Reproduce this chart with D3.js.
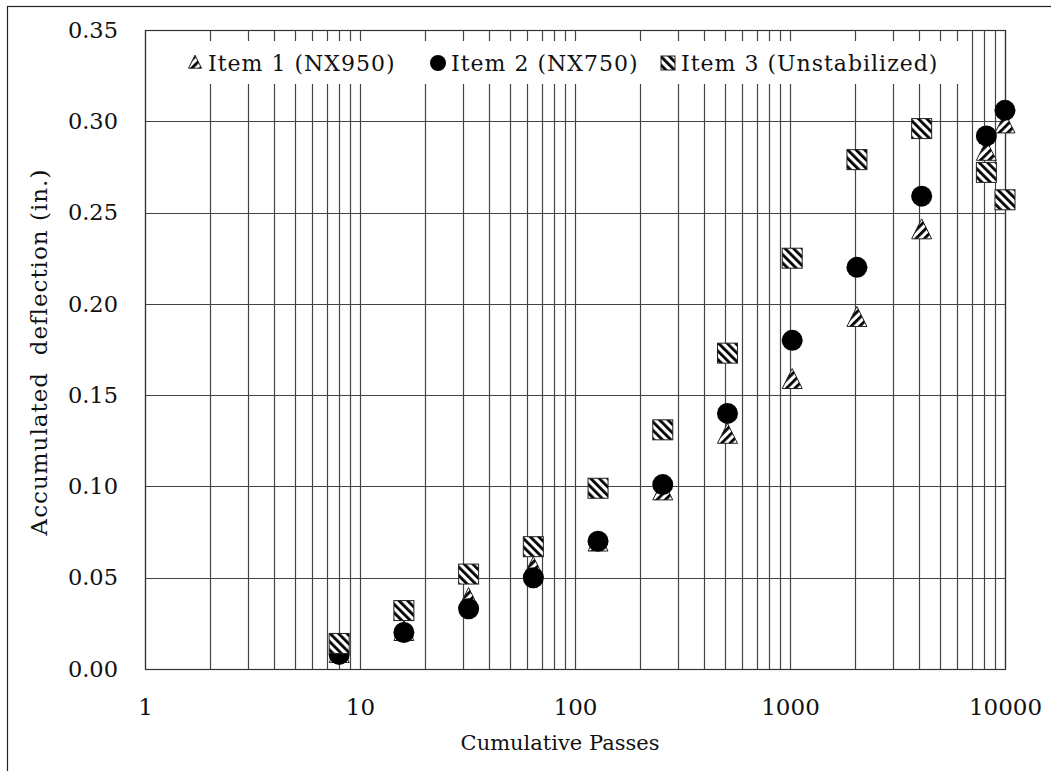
<!DOCTYPE html>
<html lang='en'>
<head>
  <meta charset='utf-8'/>
  <title>Accumulated deflection vs cumulative passes</title>
  <script src='https://d3js.org/d3.v7.min.js'></script>
  <style>
    body{margin:0;background:#ffffff;}
    svg text{font-family:'DejaVu Serif',serif;fill:#111;}
  </style>
</head>
<body>
<svg id='chart'></svg>
<script>
// Data
const passes = [8, 16, 32, 64, 128, 256, 512, 1024, 2048, 4096, 8192, 10000];
const item1 = [0.008, 0.020, 0.038, 0.055, 0.069, 0.097, 0.128, 0.158, 0.192, 0.240, 0.283, 0.298];
const item2 = [0.008, 0.020, 0.033, 0.050, 0.070, 0.101, 0.140, 0.180, 0.220, 0.259, 0.292, 0.306];
const item3 = [0.014, 0.032, 0.052, 0.067, 0.099, 0.131, 0.173, 0.225, 0.279, 0.296, 0.272, 0.257];
const seriesNames = ['Item 1 (NX950)', 'Item 2 (NX750)', 'Item 3 (Unstabilized)'];
const xTicks = [1, 10, 100, 1000, 10000];
const yTicks = [0, 0.05, 0.10, 0.15, 0.20, 0.25, 0.30, 0.35];

// Settings
const W = 1051, H = 771;
const plot = {left: 145, right: 1005, top: 30, bottom: 669};

const svg = d3.select('#chart').attr('width', W).attr('height', H);

const x = d3.scaleLog().domain([1, 10000]).range([plot.left, plot.right]);
const y = d3.scaleLinear().domain([0, 0.35]).range([plot.bottom, plot.top]);

// hatch patterns
const defs = svg.append('defs');
function hatch(id, angle) {
  const p = defs.append('pattern')
    .attr('id', id)
    .attr('patternUnits', 'userSpaceOnUse')
    .attr('width', 6).attr('height', 6)
    .attr('patternTransform', `rotate(${angle})`);
  p.append('rect').attr('width', 6).attr('height', 6).attr('fill', '#fff');
  p.append('rect').attr('width', 2.8).attr('height', 6).attr('fill', '#000');
}
hatch('hatchSq', -45);
hatch('hatchTri', 45);

// outer border
svg.append('rect')
  .attr('x', 7.5).attr('y', 6.5)
  .attr('width', W + 20).attr('height', H + 20)
  .attr('fill', 'none').attr('stroke', '#222').attr('stroke-width', 1.2);

// grid
const minor = [];
[1, 10, 100, 1000].forEach(d => { for (let k = 1; k < 10; k++) minor.push(d * k); });
minor.push(10000);

const grid = svg.append('g').attr('stroke', '#444').attr('stroke-width', 1.2);
grid.selectAll('.vg').data(minor).join('line')
  .attr('class', 'vg')
  .attr('x1', d => Math.round(x(d)) + 0.5).attr('x2', d => Math.round(x(d)) + 0.5)
  .attr('y1', plot.top).attr('y2', plot.bottom);
grid.selectAll('.hg').data(yTicks).join('line')
  .attr('class', 'hg')
  .attr('x1', plot.left).attr('x2', plot.right)
  .attr('y1', d => Math.round(y(d)) + 0.5).attr('y2', d => Math.round(y(d)) + 0.5);

// plot frame
svg.append('rect')
  .attr('x', plot.left + 0.5).attr('y', plot.top + 0.5)
  .attr('width', plot.right - plot.left).attr('height', plot.bottom - plot.top)
  .attr('fill', 'none').attr('stroke', '#333').attr('stroke-width', 1.2);

// axes labels
const xAxis = svg.append('g')
  .attr('transform', `translate(0,${plot.bottom})`)
  .call(d3.axisBottom(x).tickValues(xTicks).tickSize(0).tickPadding(30).tickFormat(d3.format('d')));
xAxis.select('.domain').remove();
xAxis.selectAll('text').style('font-size', '23px');

const yAxis = svg.append('g')
  .attr('transform', `translate(${plot.left},0)`)
  .call(d3.axisLeft(y).tickValues(yTicks).tickSize(0).tickPadding(27).tickFormat(d3.format('.2f')));
yAxis.select('.domain').remove();
yAxis.selectAll('text').style('font-size', '22.5px');

svg.append('text')
  .attr('x', (plot.left + plot.right) / 2 - 15).attr('y', 750)
  .attr('text-anchor', 'middle')
  .style('font-size', '21px')
  .text('Cumulative Passes');

svg.append('text')
  .attr('transform', `translate(47,352) rotate(-90)`)
  .attr('text-anchor', 'middle')
  .style('font-size', '23px')
  .style('letter-spacing', '1px')
  .style('white-space', 'pre')
  .text('Accumulated  deflection (in.)');

// markers
function triPath(s) {
  return `M0,${-s * 0.6}L${s / 2},${s * 0.4}L${-s / 2},${s * 0.4}Z`;
}
const pts = (vals) => passes.map((p, i) => ({p, v: vals[i]}));

svg.append('g').selectAll('path').data(pts(item1)).join('path')
  .attr('transform', d => `translate(${x(d.p)},${y(d.v)})`)
  .attr('d', triPath(20))
  .attr('fill', 'url(#hatchTri)').attr('stroke', '#222').attr('stroke-width', 1);

svg.append('g').selectAll('circle').data(pts(item2)).join('circle')
  .attr('cx', d => x(d.p)).attr('cy', d => y(d.v)).attr('r', 10.5)
  .attr('fill', '#000');

svg.append('g').selectAll('rect').data(pts(item3)).join('rect')
  .attr('x', d => x(d.p) - 10).attr('y', d => y(d.v) - 10)
  .attr('width', 20).attr('height', 20)
  .attr('fill', 'url(#hatchSq)').attr('stroke', '#222').attr('stroke-width', 1);

// legend
const legend = svg.append('g');
legend.append('rect')
  .attr('x', 180).attr('y', 41).attr('width', 780).attr('height', 43)
  .attr('fill', '#fff');

const legX = [195, 438, 668];
const legY = 63;
legend.append('path')
  .attr('transform', `translate(${legX[0]},${legY})`)
  .attr('d', triPath(13))
  .attr('fill', 'url(#hatchTri)').attr('stroke', '#222');
legend.append('circle')
  .attr('cx', legX[1]).attr('cy', legY).attr('r', 8).attr('fill', '#000');
legend.append('rect')
  .attr('x', legX[2] - 7).attr('y', legY - 7).attr('width', 14).attr('height', 14)
  .attr('fill', 'url(#hatchSq)').attr('stroke', '#222');

legend.selectAll('.lt').data(seriesNames).join('text')
  .attr('class', 'lt')
  .attr('x', (d, i) => legX[i] + 13)
  .attr('y', legY + 8)
  .style('font-size', '22px')
  .style('letter-spacing', '1px')
  .text(d => d);
</script>
</body>
</html>
